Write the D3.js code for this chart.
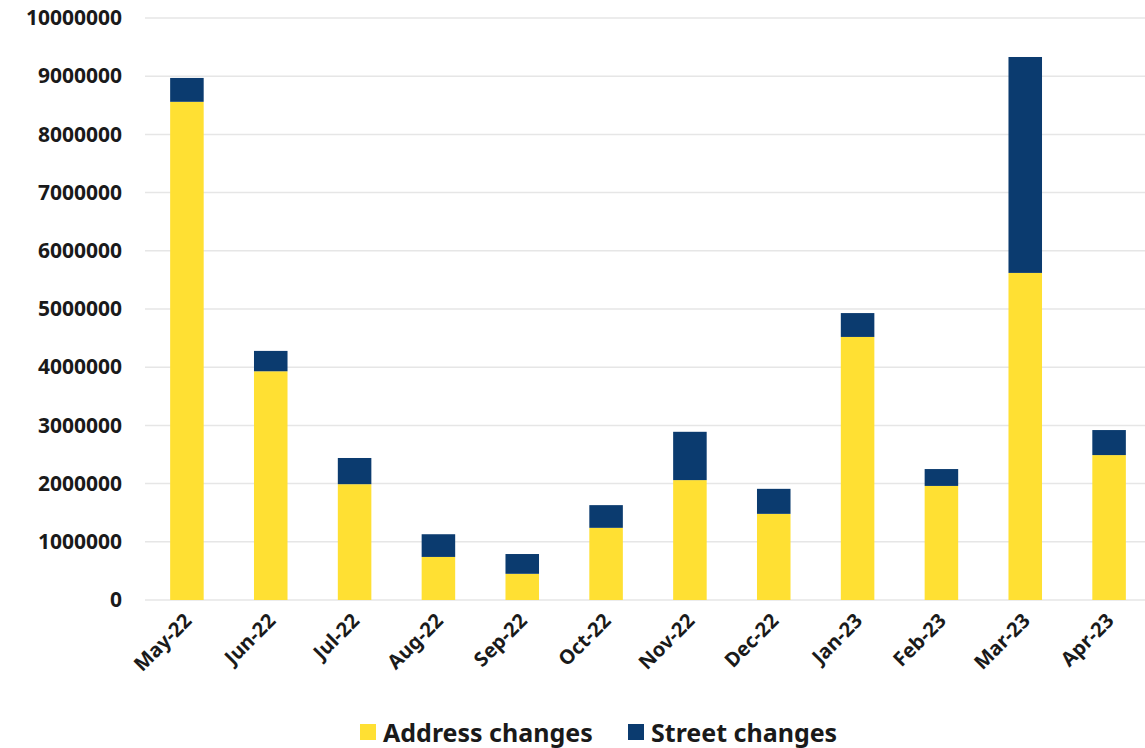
<!DOCTYPE html>
<html>
<head>
<meta charset="utf-8">
<script src="https://cdn.jsdelivr.net/npm/d3@7"></script>
<style>
  body { margin: 0; background: #fff; }
  svg { display: block; font-family: "Noto Sans", sans-serif; font-weight: 700; }
</style>
</head>
<body>
<svg id="chart" width="1145" height="748"></svg>
<script>
// data
const months = ["May-22", "Jun-22", "Jul-22", "Aug-22", "Sep-22", "Oct-22",
                "Nov-22", "Dec-22", "Jan-23", "Feb-23", "Mar-23", "Apr-23"];
const addressChanges = [8560000, 3930000, 1990000, 740000, 450000, 1240000,
                        2060000, 1480000, 4520000, 1960000, 5620000, 2490000];
const streetChanges = [410000, 350000, 450000, 390000, 340000, 390000,
                       830000, 430000, 410000, 290000, 3710000, 430000];
const seriesNames = ["Address changes", "Street changes"];
const yTicks = d3.range(0, 10000001, 1000000);

const colors = ["#FFE033", "#0B3B6F"];

const svg = d3.select("#chart");
const margin = { top: 18, left: 145 };
const plotW = 1006, plotH = 582;

const g = svg.append("g").attr("transform", `translate(${margin.left},${margin.top})`);

const x = d3.scaleBand().domain(months).range([0, plotW]).paddingInner(0.6).paddingOuter(0.3);
const y = d3.scaleLinear().domain([0, 10000000]).range([plotH, 0]);

// gridlines
g.append("g")
  .selectAll("line")
  .data(yTicks)
  .join("line")
  .attr("x1", 0)
  .attr("x2", 1000)
  .attr("y1", d => y(d))
  .attr("y2", d => y(d))
  .attr("stroke", "#e6e6e6")
  .attr("stroke-width", 1.5);

// y labels
const yAxis = g.append("g").call(d3.axisLeft(y).tickValues(yTicks).tickSize(0).tickPadding(23).tickFormat(d3.format("d")));
yAxis.select(".domain").remove();
yAxis.selectAll("text")
  .attr("font-size", 21)
  .attr("font-family", "Noto Sans")
  .attr("font-weight", 700)
  .attr("fill", "#1a1a1a");

// stacked bars
const rows = months.map((m, i) => ({ month: m, address: addressChanges[i], street: streetChanges[i] }));
const stack = d3.stack().keys(["address", "street"])(rows);

g.append("g")
  .selectAll("g")
  .data(stack)
  .join("g")
  .attr("fill", (d, i) => colors[i])
  .selectAll("rect")
  .data(d => d)
  .join("rect")
  .attr("x", d => x(d.data.month))
  .attr("width", x.bandwidth())
  .attr("y", d => y(d[1]))
  .attr("height", d => y(d[0]) - y(d[1]));

// x labels, rotated
const xAxis = g.append("g")
  .attr("transform", `translate(0,${plotH})`)
  .call(d3.axisBottom(x).tickSize(0).tickPadding(0));
xAxis.select(".domain").remove();
xAxis.selectAll("text")
  .attr("font-size", 20)
  .attr("font-family", "Noto Sans")
  .attr("font-weight", 700)
  .attr("fill", "#1a1a1a")
  .attr("text-anchor", "end")
  .attr("dy", null)
  .attr("transform", "translate(6,22) rotate(-45)");

// legend
const legend = svg.append("g").attr("transform", "translate(360,733)");
const legendX = [0, 268];
seriesNames.forEach((name, i) => {
  const item = legend.append("g").attr("transform", `translate(${legendX[i]},0)`);
  item.append("rect").attr("x", 0).attr("y", -9).attr("width", 16).attr("height", 16).attr("fill", colors[i]);
  item.append("text")
    .attr("x", 23)
    .attr("y", 0)
    .attr("dy", "0.35em")
    .attr("font-size", 25)
    .attr("fill", "#1a1a1a")
    .text(name);
});
</script>
</body>
</html>
